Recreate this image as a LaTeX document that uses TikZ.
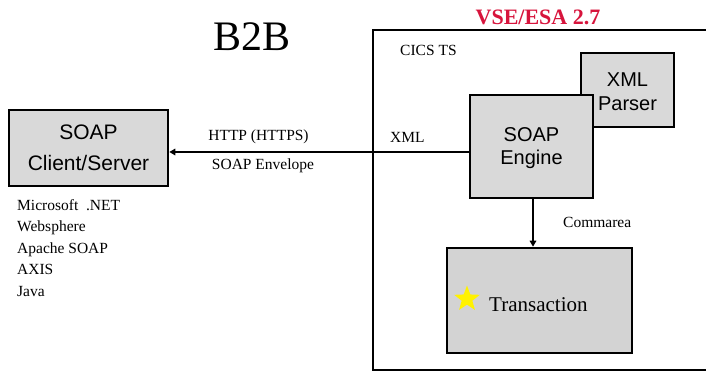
\documentclass[tikz,border=0pt]{standalone}
\usepackage{fontspec}
\setmainfont{Liberation Serif}
\setsansfont{Liberation Sans}
\usetikzlibrary{shapes.geometric,arrows.meta}
\definecolor{boxgray}{RGB}{217,217,217}
\definecolor{trgray}{RGB}{211,211,211}
\definecolor{vsered}{RGB}{215,20,60}
\begin{document}
\begin{tikzpicture}[x=1pt,y=-1pt,
  graybox/.style={draw=black,line width=2.6pt,fill=boxgray,inner sep=0pt},
  sanslabel/.style={font=\sffamily\fontsize{20}{23.5}\selectfont,align=center},
  serifsmall/.style={font=\rmfamily\fontsize{15.5}{21.5}\selectfont,inner sep=0pt},
  conn/.style={line width=2pt,-{Triangle[length=6pt,width=6.5pt]}}]
\useasboundingbox (0,0) rectangle (706,371);
% outer VSE box (extends past the right edge)
\draw[line width=1.5pt] (720,30) -- (373,30) -- (373,370) -- (720,370);
\node[font=\rmfamily\bfseries\fontsize{22}{26}\selectfont,text=vsered,inner sep=0pt] (vse) at (538,17) {VSE/ESA 2.7};
\node[font=\rmfamily\fontsize{42}{48}\selectfont,inner sep=0pt] (b2b) at (252,37) {B2B};
\node[serifsmall,anchor=west] (cics) at (400,50) {CICS TS};
% boxes
\node[graybox,minimum width=93pt,minimum height=74pt] (parser) at (627.5,90) {};
\node[sanslabel] (parsertxt) at (627.5,91.5) {XML\\Parser};
\node[graybox,minimum width=123pt,minimum height=103pt] (engine) at (531.5,146.5) {};
\node[sanslabel] (enginetxt) at (531.5,148) {SOAP\\Engine};
\node[graybox,minimum width=159pt,minimum height=76pt] (client) at (88.5,148) {};
\node[sanslabel,font=\sffamily\fontsize{21}{31}\selectfont] (clienttxt) at (88.5,148) {SOAP\\Client/Server};
\node[graybox,fill=trgray,minimum width=185pt,minimum height=105pt] (trans) at (539.5,300.5) {};
\node[font=\rmfamily\fontsize{21}{24}\selectfont,inner sep=0pt,anchor=west] (transtxt) at (489,305) {Transaction};
\node[star,star points=5,star point ratio=2.4,fill=yellow,draw=none,minimum size=27pt,inner sep=0pt] (star) at (467,299) {};
% connectors
\draw[conn] (engine.west |- 0,152) -- (client.east |- 0,152);
\draw[conn] (engine.south -| 533,0) -- (trans.north -| 533,0);
% labels
\node[serifsmall] (http) at (258.5,137) {HTTP (HTTPS)};
\node[serifsmall] (env) at (263,166) {SOAP Envelope};
\node[serifsmall,anchor=west] (xml) at (390,137) {XML};
\node[serifsmall,anchor=west] (comm) at (563,222) {Commarea};
\node[serifsmall,anchor=north west,align=left] (list) at (17,199) {Microsoft\ \ .NET\\Websphere\\Apache SOAP\\AXIS\\Java};
\end{tikzpicture}
\end{document}
